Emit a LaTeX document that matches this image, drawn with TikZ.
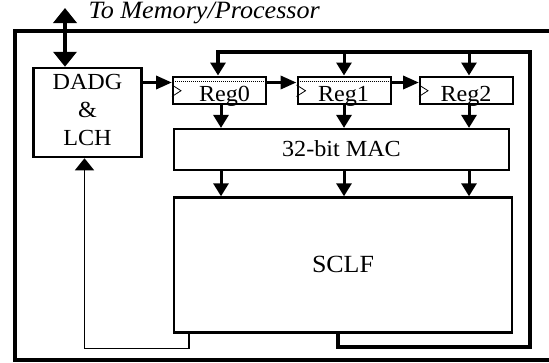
\documentclass[tikz,border=0pt]{standalone}
\usepackage{fontspec}
\setmainfont{Liberation Serif}[FakeStretch=1.05]
\usetikzlibrary{arrows.meta}
\begin{document}
\begin{tikzpicture}[x=1pt,y=-1pt,
  box/.style={draw, line width=2pt, inner sep=0pt, anchor=center},
  regbox/.style={box, minimum width=93pt, minimum height=27pt},
  lbl/.style={inner sep=0pt, font=\fontsize{23}{28}\selectfont},
  varr/.style={line width=3pt, -{Triangle[length=13pt,width=15pt]}},
  harr/.style={line width=3.5pt, -{Triangle[length=16pt,width=13pt]}},
  bidir/.style={line width=4pt, {Triangle[length=15pt,width=23pt]}-{Triangle[length=15pt,width=23pt]}},
  fbloop/.style={line width=3.5pt, line join=miter, -{Triangle[length=13pt,width=15pt]}},
  thinloop/.style={line width=1.3pt, line join=miter, -{Triangle[length=12pt,width=19pt]}},
  clk/.style={line width=0.8pt},
  dotl/.style={line width=1pt, dash pattern=on 1pt off 1pt}
]
\useasboundingbox (0,0) rectangle (549,362);
% outer frame (right side lies beyond the picture)
\draw[line width=4pt, line join=miter] (575,31.3) -- (15,31.3) -- (15,359.5) -- (575,359.5);

% blocks
\node[box, line width=2.5pt, minimum width=108.4pt, minimum height=89pt] (dadg) at (87.5,112.5) {};
\node[regbox] (r0) at (219.5,90) {};
\node[regbox] (r1) at (344,90) {};
\node[regbox] (r2) at (466.5,90) {};
\node[box, line width=2.2pt, minimum width=335pt, minimum height=41pt] (mac) at (341.5,149.5) {};
\node[box, line width=2.4pt, minimum width=338pt, minimum height=135pt] (sclf) at (343,265) {};

% labels
\node[inner sep=0pt, anchor=base west, font=\itshape\fontsize{24.9}{28}\selectfont] (memt) at (88.5,18.5) {To Memory/Processor};
\node[lbl, align=center] (dadgt) at (87.5,109.6) {DADG\\\&\\LCH};
\node[lbl, anchor=base] (r0t) at (224.5,101) {Reg0};
\node[lbl, anchor=base] (r1t) at (343.5,101) {Reg1};
\node[lbl, anchor=base] (r2t) at (466,101) {Reg2};
\node[lbl, anchor=base] (mact) at (341.5,156.5) {32-bit MAC};
\node[lbl, anchor=base, font=\fontsize{24.7}{28}\selectfont] (sclft) at (343,272) {SCLF};

% clock marks and dotted lines
\foreach \r in {r0,r1,r2}{
  \draw[clk] ([shift={(0,-5)}]\r.west) -- ([shift={(9,0.7)}]\r.west) -- ([shift={(0,6.5)}]\r.west);
}
\foreach \r in {r0,r1}{
  \draw[dotl] ([shift={(1,-9)}]\r.west) -- ([shift={(-1,-9)}]\r.east);
}

% memory bus
\coordinate (mem) at (65,8);
\draw[bidir] (mem) -- (mem |- dadg.north);

% horizontal data arrows
\coordinate (ha) at ([yshift=7.5pt]r0.west);
\coordinate (hb) at ([yshift=7.5pt]r1.west);
\coordinate (hc) at ([yshift=7.5pt]r2.west);
\draw[harr] (dadg.east |- ha) -- (ha);
\draw[harr] (r0.east |- hb) -- (hb);
\draw[harr] (r1.east |- hc) -- (hc);

% columns
\coordinate (c0) at (221,0);
\coordinate (c1) at (344,0);
\coordinate (c2) at (469,0);

% feedback loop from SCLF to registers
\coordinate (tl) at (218,52);
\coordinate (tr) at (530,52);
\coordinate (br) at (530,347);
\coordinate (bl) at (338,347);
\draw[fbloop] (sclf.south -| bl) -- (bl) -- (br) -- (tr) -- (tl) -- (tl |- r0.north);
\draw[varr] (c1 |- tl) -- (c1 |- r1.north);
\draw[varr] (c2 |- tl) -- (c2 |- r2.north);

% registers to MAC, MAC to SCLF
\foreach \c/\r in {c0/r0,c1/r1,c2/r2}{
  \draw[varr] (\c |- \r.south) -- (\c |- mac.north);
  \draw[varr] (\c |- mac.south) -- (\c |- sclf.north);
}

% thin loop back to DADG
\coordinate (lb) at (189,348.5);
\coordinate (lc) at (84.5,348.5);
\draw[thinloop] (sclf.south -| lb) -- (lb) -- (lc) -- (lc |- dadg.south);
\end{tikzpicture}
\end{document}
